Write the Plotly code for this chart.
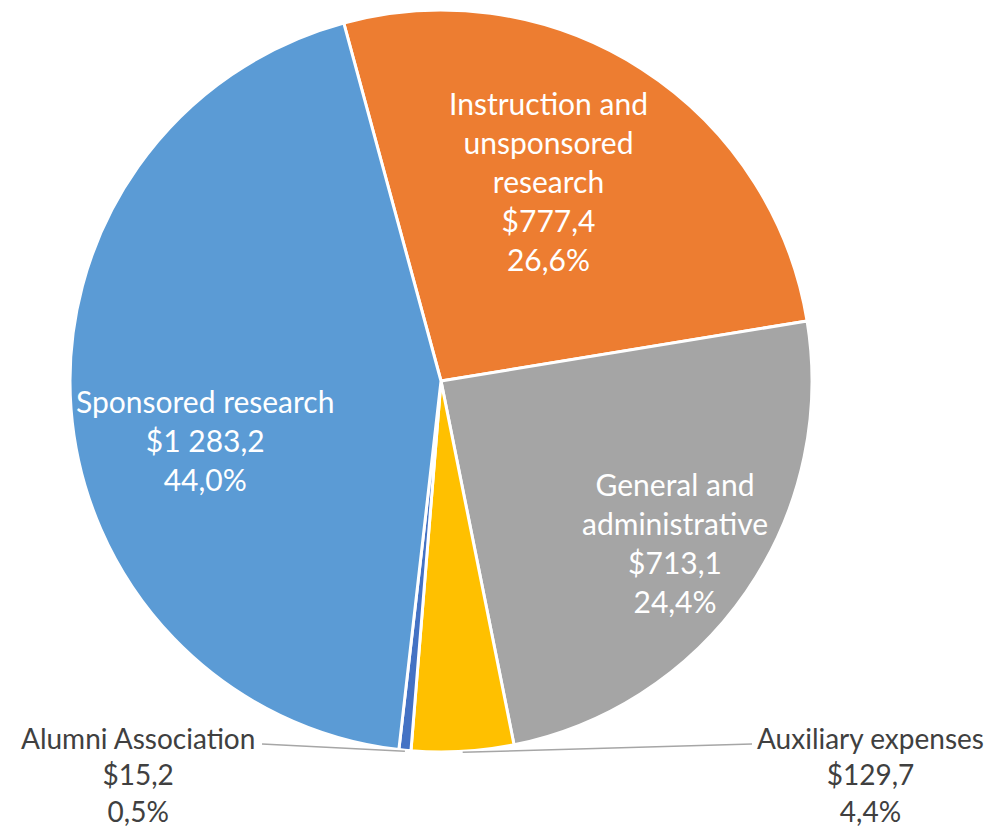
import math

import plotly.graph_objects as go

# Expenses by category ($ millions), clockwise from the top
labels = [
    "Instruction and<br>unsponsored<br>research",
    "General and<br>administrative",
    "Auxiliary expenses",
    "Alumni Association",
    "Sponsored research",
]
values = [777.4, 713.1, 129.7, 15.2, 1283.2]
amounts = ["$777,4", "$713,1", "$129,7", "$15,2", "$1 283,2"]
shares = ["26,6%", "24,4%", "4,4%", "0,5%", "44,0%"]
colors = ["#ED7D31", "#A5A5A5", "#FFC000", "#4472C4", "#5B9BD5"]
outside = [False, False, True, True, False]

# page pixels; the html body adds an 8px margin around the figure
OFF = 8
FW, FH = 996 - OFF, 831 - OFF
CX, CY, R = 441, 381, 371
ROTATION = -15.2
FONT = "Lato, 'Open Sans', sans-serif"

# label block centres (page pixels)
label_xy = [(548, 181), (675, 542), (870, 774), (138, 774), (205, 440)]


def to_paper(px, py):
    return (px - OFF) / FW, 1 - (py - OFF) / FH


x0, y1 = to_paper(CX - R, CY - R)
x1, y0 = to_paper(CX + R, CY + R)

fig = go.Figure(go.Pie(
    values=values,
    textinfo="none",
    marker=dict(colors=colors, line=dict(color="white", width=3)),
    sort=False,
    direction="clockwise",
    rotation=ROTATION,
    hoverinfo="skip",
    domain=dict(x=[x0, x1], y=[y0, y1]),
))

total = sum(values)
cum = 0.0
for i, v in enumerate(values):
    mid = ROTATION + (cum + v / 2) / total * 360
    cum += v
    lx, ly = label_xy[i]
    ax, ay = to_paper(lx, ly)
    fig.add_annotation(
        xref="paper", yref="paper", x=ax, y=ay,
        xanchor="center", yanchor="middle", showarrow=False, align="center",
        text=f"{labels[i]}<br>{amounts[i]}<br>{shares[i]}",
        font=dict(family=FONT, size=28 if outside[i] else 30,
                  color="#404040" if outside[i] else "white"),
    )
    if outside[i]:
        # leader line from the slice edge to the end of the label's first line
        ex = CX + R * math.sin(math.radians(mid))
        ey = CY - R * math.cos(math.radians(mid))
        end_x = 262 if lx < CX else 752
        sx, sy = to_paper(ex, ey + 1)
        tx, ty = to_paper(end_x, 744)
        fig.add_shape(
            type="line", xref="paper", yref="paper",
            x0=sx, y0=sy, x1=tx, y1=ty,
            line=dict(color="#A6A6A6", width=1.5),
        )

fig.update_layout(
    width=FW, height=FH,
    margin=dict(l=0, r=0, t=0, b=0),
    showlegend=False,
    paper_bgcolor="white",
    plot_bgcolor="white",
)

fig.write_html("out.html")
